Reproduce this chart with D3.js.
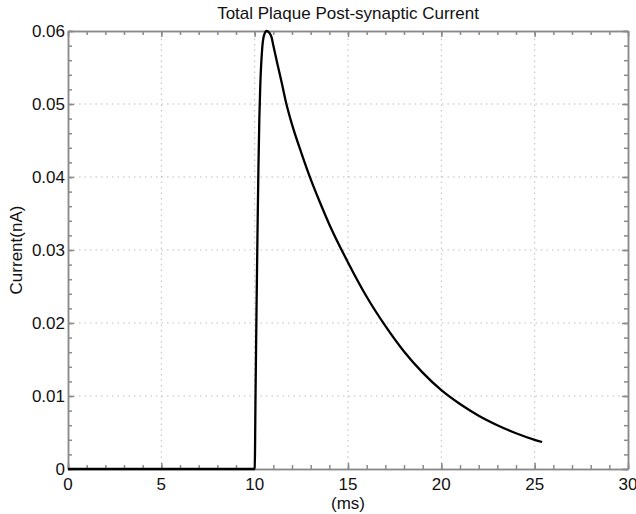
<!DOCTYPE html>
<html>
<head>
<meta charset="utf-8">
<script src="https://cdn.jsdelivr.net/npm/d3@7"></script>
<style>
  body { margin: 0; background: #fff; }
  text { font-family: "Liberation Sans", Arial, Helvetica, sans-serif; fill: #111; }
</style>
</head>
<body>
<div id="graph"></div>
<script>
// values
const timeMs = [0, 10, 10.05, 10.1, 10.15, 10.2, 10.25, 10.3, 10.4, 10.5, 10.64, 10.8, 10.9, 11.0, 11.2, 11.45, 11.7,
                12, 12.5, 13, 13.5, 14, 15, 16, 17, 18, 19, 20, 21, 22, 23, 24, 25, 25.4];
const currentNA = [0, 0, 0.011, 0.022, 0.032, 0.041, 0.048, 0.0525, 0.0575, 0.0594, 0.06, 0.0597, 0.0592, 0.058, 0.0557, 0.0529, 0.0500,
                   0.0472, 0.0433, 0.0397, 0.0365, 0.0335, 0.0283, 0.0236, 0.0196, 0.0161, 0.0132, 0.0108, 0.0089, 0.0073,
                   0.0060, 0.0049, 0.0040, 0.0037];
const xTicks = [0, 5, 10, 15, 20, 25, 30];
const yTicks = [0, 0.01, 0.02, 0.03, 0.04, 0.05, 0.06];
const yTickLabels = ["0", "0.01", "0.02", "0.03", "0.04", "0.05", "0.06"];
const xMinor = d3.range(0, 31, 1);
const yMinor = d3.range(0, 0.0601, 0.002);

const width = 636, height = 514;
const margin = { left: 68, right: 8, top: 31, bottom: 45 };

const svg = d3.select("#graph").append("svg")
              .attr("width", width).attr("height", height);

const xScale = d3.scaleLinear().domain([0, 30]).range([margin.left, width - margin.right]);
const yScale = d3.scaleLinear().domain([0, 0.06]).range([height - margin.bottom, margin.top]);

// dotted grid at the major ticks
const grid = svg.append("g").attr("stroke", "#bdbdbd").attr("stroke-dasharray", "1.5,4").attr("stroke-width", 1);
grid.selectAll(".gx").data(xTicks.slice(1, -1)).join("line")
    .attr("x1", d => xScale(d)).attr("x2", d => xScale(d))
    .attr("y1", yScale(0)).attr("y2", yScale(0.06));
grid.selectAll(".gy").data(yTicks.slice(1, -1)).join("line")
    .attr("y1", d => yScale(d)).attr("y2", d => yScale(d))
    .attr("x1", xScale(0)).attr("x2", xScale(30));

// box axes with inward ticks
function styleAxis(g) {
  g.selectAll("path, line").attr("stroke", "#8a8a8a").attr("stroke-width", 1.5);
  g.selectAll("text").remove();
}
const axes = [
  [d3.axisBottom(xScale), `translate(0,${yScale(0)})`, xMinor, xTicks],
  [d3.axisTop(xScale), `translate(0,${yScale(0.06)})`, xMinor, xTicks],
  [d3.axisLeft(yScale), `translate(${xScale(0)},0)`, yMinor, yTicks],
  [d3.axisRight(yScale), `translate(${xScale(30)},0)`, yMinor, yTicks]
];
axes.forEach(([axis, tr, minor, major]) => {
  svg.append("g").attr("transform", tr)
     .call(axis.tickValues(minor).tickSize(-4).tickSizeOuter(0))
     .call(styleAxis);
  svg.append("g").attr("transform", tr)
     .call(axis.tickValues(major).tickSize(-6).tickSizeOuter(0))
     .call(styleAxis);
});

// tick labels
svg.append("g").selectAll("text").data(xTicks).join("text")
   .attr("x", d => xScale(d)).attr("y", yScale(0) + 21)
   .attr("text-anchor", "middle").attr("font-size", 17)
   .text(d => d);
svg.append("g").selectAll("text").data(yTicks).join("text")
   .attr("x", xScale(0) - 3).attr("y", d => yScale(d))
   .attr("dy", "0.36em")
   .attr("text-anchor", "end").attr("font-size", 17)
   .text((d, i) => yTickLabels[i]);

// curve
const line = d3.line()
               .x((d, i) => xScale(timeMs[i]))
               .y(d => yScale(d))
               .curve(d3.curveMonotoneX);
svg.append("path").datum(currentNA)
   .attr("d", line)
   .attr("fill", "none").attr("stroke", "#000").attr("stroke-width", 2.3)
   .attr("stroke-linejoin", "round");

// titles
svg.append("text").attr("x", (xScale(0) + xScale(30)) / 2).attr("y", 19)
   .attr("text-anchor", "middle").attr("font-size", 17)
   .text("Total Plaque Post-synaptic Current");
svg.append("text").attr("x", (xScale(0) + xScale(30)) / 2).attr("y", 509)
   .attr("text-anchor", "middle").attr("font-size", 17)
   .text("(ms)");
svg.append("text")
   .attr("transform", `translate(22,${(yScale(0) + yScale(0.06)) / 2}) rotate(-90)`)
   .attr("text-anchor", "middle").attr("font-size", 17)
   .text("Current(nA)");
</script>
</body>
</html>
